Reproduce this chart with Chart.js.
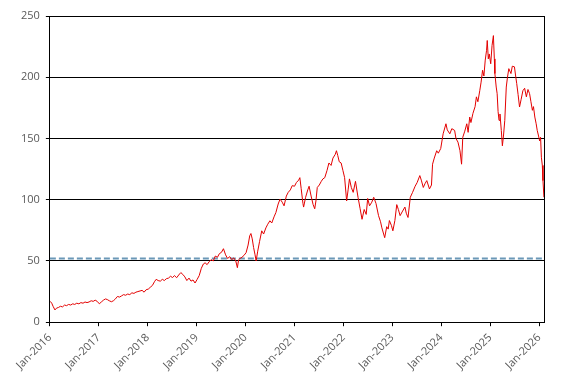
<!DOCTYPE html>
<html>
<head>
<meta charset="utf-8">
<script src="https://cdn.jsdelivr.net/npm/chart.js@4/dist/chart.umd.min.js"></script>
<style>
  html, body { margin: 0; padding: 0; background: #ffffff; }
  #wrap { width: 572px; height: 385px; }
</style>
</head>
<body>
<div id="wrap"><canvas id="chart" width="572" height="385"></canvas></div>
<script>
// price series (date, value)
const dates = [
  '2016-01-04','2016-01-15','2016-01-25','2016-02-08','2016-02-20','2016-03-05','2016-03-20','2016-04-05','2016-04-20','2016-05-05','2016-05-20','2016-06-05','2016-06-20','2016-07-05','2016-07-20','2016-08-05','2016-08-20','2016-09-05','2016-09-20','2016-10-05','2016-10-20','2016-11-05','2016-11-20','2016-12-05','2016-12-20',
  '2017-01-05','2017-01-20','2017-02-05','2017-02-20','2017-03-05','2017-03-20','2017-04-05','2017-04-20','2017-05-05','2017-05-20','2017-06-05','2017-06-20','2017-07-05','2017-07-20','2017-08-05','2017-08-20','2017-09-05','2017-09-20','2017-10-05','2017-10-20','2017-11-05','2017-11-20','2017-12-05','2017-12-20',
  '2018-01-05','2018-01-20','2018-02-05','2018-02-20','2018-03-05','2018-03-20','2018-04-05','2018-04-20','2018-05-05','2018-05-20','2018-06-05','2018-06-20','2018-07-05','2018-07-20','2018-08-05','2018-08-20','2018-09-05','2018-09-20','2018-10-05','2018-10-20','2018-11-05','2018-11-20','2018-12-05','2018-12-20',
  '2019-01-05','2019-01-20','2019-02-05','2019-02-20','2019-03-05','2019-03-20','2019-04-05','2019-04-20','2019-05-05','2019-05-20','2019-06-05','2019-06-20','2019-07-05','2019-07-20','2019-08-05','2019-08-20','2019-09-05','2019-09-20','2019-10-05','2019-10-20','2019-11-01','2019-11-10','2019-11-20','2019-12-05','2019-12-20',
  '2020-01-05','2020-01-20','2020-02-01','2020-02-10','2020-02-20','2020-03-01','2020-03-12','2020-03-20','2020-04-01','2020-04-15','2020-05-01','2020-05-15','2020-06-01','2020-06-15','2020-07-01','2020-07-15','2020-08-01','2020-08-15','2020-09-01','2020-09-15','2020-10-01','2020-10-15','2020-11-01','2020-11-15','2020-12-01','2020-12-15',
  '2021-01-01','2021-01-15','2021-02-01','2021-02-10','2021-02-20','2021-03-05','2021-03-10','2021-03-25','2021-04-10','2021-04-20','2021-05-05','2021-05-20','2021-06-01','2021-06-10','2021-06-20','2021-07-05','2021-07-20','2021-08-01','2021-08-15','2021-09-01','2021-09-15','2021-10-01','2021-10-15','2021-11-01','2021-11-10','2021-11-20','2021-12-01','2021-12-15','2021-12-28',
  '2022-01-10','2022-01-25','2022-02-05','2022-02-15','2022-03-01','2022-03-15','2022-04-01','2022-04-20','2022-05-05','2022-05-20','2022-06-05','2022-06-20','2022-07-01','2022-07-15','2022-08-01','2022-08-15','2022-09-01','2022-09-20','2022-10-05','2022-10-15','2022-11-05','2022-11-20','2022-12-01','2022-12-10','2022-12-25',
  '2023-01-05','2023-01-20','2023-02-03','2023-02-15','2023-02-28','2023-03-15','2023-04-05','2023-04-15','2023-04-28','2023-05-15','2023-06-01','2023-06-20','2023-07-05','2023-07-25','2023-08-05','2023-08-20','2023-09-01','2023-09-15','2023-10-05','2023-10-20','2023-10-28','2023-11-10','2023-11-28','2023-12-10','2023-12-28',
  '2024-01-15','2024-02-05','2024-02-15','2024-03-05','2024-03-20','2024-04-10','2024-04-20','2024-05-05','2024-05-20','2024-06-01','2024-06-10','2024-06-25','2024-07-10','2024-07-20','2024-08-01','2024-08-10','2024-08-25','2024-09-10','2024-09-20','2024-10-01','2024-10-15','2024-10-25','2024-11-05','2024-11-15','2024-11-25','2024-12-05','2024-12-10','2024-12-18','2024-12-25',
  '2025-01-05','2025-01-15','2025-01-25','2025-02-01','2025-02-05','2025-02-15','2025-02-22','2025-03-01','2025-03-08','2025-03-15','2025-03-25','2025-04-02','2025-04-10','2025-04-20','2025-05-01','2025-05-10','2025-05-20','2025-06-05','2025-06-15','2025-07-01','2025-07-10','2025-07-18','2025-07-28','2025-08-08','2025-08-20','2025-09-02','2025-09-15','2025-09-28','2025-10-10','2025-10-22','2025-11-01','2025-11-12','2025-11-20','2025-11-30','2025-12-10','2025-12-18','2025-12-28',
  '2026-01-05','2026-01-12','2026-01-18','2026-01-25','2026-01-30','2026-02-06'
];
const prices = [
  17, 15.5, 13, 10, 11.5, 12, 13, 12.5, 14, 13.5, 14.5, 14, 15, 14.5, 15.5, 15, 16, 15.5, 16.5, 16, 16.5, 17.5, 17, 18, 17,
  15, 16.5, 18, 19, 18.5, 17.5, 16.7, 17.5, 19, 21, 20.5, 21.5, 22.5, 22, 23, 22.5, 24, 23.5, 24.5, 25, 25.5, 26, 24.5, 26.5,
  27, 28.5, 30, 33, 35, 34, 33.5, 35, 34, 35.5, 36, 37.5, 36.5, 38, 36.3, 38.5, 40.5, 39, 37, 34, 36, 33.5, 34.5, 32,
  35, 38, 44, 47.5, 48.5, 47, 49.5, 51, 50, 54, 53, 56, 57, 60, 55, 52, 53.5, 51, 52.5, 50, 44.5, 51, 52, 53, 54.5,
  56.8, 63, 70.5, 72.4, 68, 61, 55, 50, 58, 66, 74.6, 72, 77, 80, 82.8, 81, 86, 89.6, 96.5, 100.5, 98, 95, 103, 106, 108, 111.5,
  111, 114, 116, 118, 109, 97, 94, 102, 108, 111, 103, 96, 92.6, 99, 110, 112, 115, 117, 118, 124, 130, 128, 134, 137, 140, 136, 131, 130, 124,
  118, 99, 108, 117, 110, 106, 115, 102, 93, 84, 92, 88, 101, 95, 98, 102, 97, 87, 82, 77, 69, 78, 76, 83, 79,
  74.6, 83, 96, 92, 87, 90, 94, 89, 85.5, 102, 106, 111, 114, 119.7, 116, 110, 113, 115.6, 108.8, 112, 129, 134, 140, 138, 141.8,
  153.8, 162, 157, 153.8, 158, 156.6, 150, 147, 140, 129, 151, 156, 162, 155, 167.5, 163, 170.5, 176, 184, 180, 189, 196, 205.7, 201, 214, 222, 230, 215, 219,
  211, 226, 234, 215, 203, 192, 186.6, 172, 164.8, 170, 156.6, 144, 152, 164.8, 192, 200, 207, 203, 209, 208.5, 201, 194.8, 186, 175.7, 182, 189, 191, 184, 190, 186.6, 180, 173, 176, 167.5, 162, 156.6, 152,
  148, 151, 134.7, 128, 115.6, 102
];

const refLevel = 52;   // dashed horizontal line
const tickYears = [2016, 2017, 2018, 2019, 2020, 2021, 2022, 2023, 2024, 2025, 2026];
const yTicks = [0, 50, 100, 150, 200, 250];
const xMin = 2016;
const xMax = 2026.1;

// date string -> decimal year
const toYear = function (s) {
    const p = s.split('-').map(Number);
    const start = Date.UTC(p[0], 0, 1);
    const end = Date.UTC(p[0] + 1, 0, 1);
    return p[0] + (Date.UTC(p[0], p[1] - 1, p[2]) - start) / (end - start);
};

const points = dates.map((d, i) => ({ x: toYear(d), y: prices[i] }));
const refLine = [{ x: xMin, y: refLevel }, { x: xMax, y: refLevel }];

const labelFont = { family: "'Open Sans', sans-serif", size: 11 };
const labelColor = '#595959';

new Chart(document.getElementById('chart'), {
    type: 'line',
    data: {
        datasets: [{
            data: points,
            borderColor: '#e30000',
            borderWidth: 1,
            pointRadius: 0,
            tension: 0
        }, {
            data: refLine,
            borderColor: '#6b98b7',
            borderWidth: 2,
            borderDash: [6, 3],
            pointRadius: 0
        }]
    },
    options: {
        responsive: false,
        animation: false,
        layout: { padding: { left: 15, right: 20, top: 16, bottom: 8 } },
        plugins: {
            legend: { display: false },
            tooltip: { enabled: false }
        },
        scales: {
            x: {
                type: 'linear',
                min: xMin,
                max: xMax,
                afterBuildTicks: function (scale) {
                    scale.ticks = tickYears.map(v => ({ value: v }));
                },
                grid: { drawOnChartArea: false, drawTicks: true, tickLength: 4, tickColor: '#000000', color: '#000000' },
                border: { display: true, color: '#000000', width: 1 },
                ticks: {
                    color: labelColor,
                    font: labelFont,
                    minRotation: 45,
                    maxRotation: 45,
                    padding: 5,
                    callback: function (v) { return 'Jan-' + v; }
                }
            },
            y: {
                min: 0,
                max: 250,
                afterBuildTicks: function (scale) {
                    scale.ticks = yTicks.map(v => ({ value: v }));
                },
                grid: { color: '#000000', lineWidth: 1, drawTicks: true, tickLength: 4, tickColor: '#000000' },
                border: { display: true, color: '#000000', width: 1 },
                ticks: { color: labelColor, font: labelFont, padding: 6 }
            },
            y2: {
                position: 'right',
                min: 0,
                max: 250,
                grid: { display: false },
                border: { display: true, color: '#000000', width: 1 },
                ticks: { display: false }
            }
        }
    }
});
</script>
</body>
</html>
